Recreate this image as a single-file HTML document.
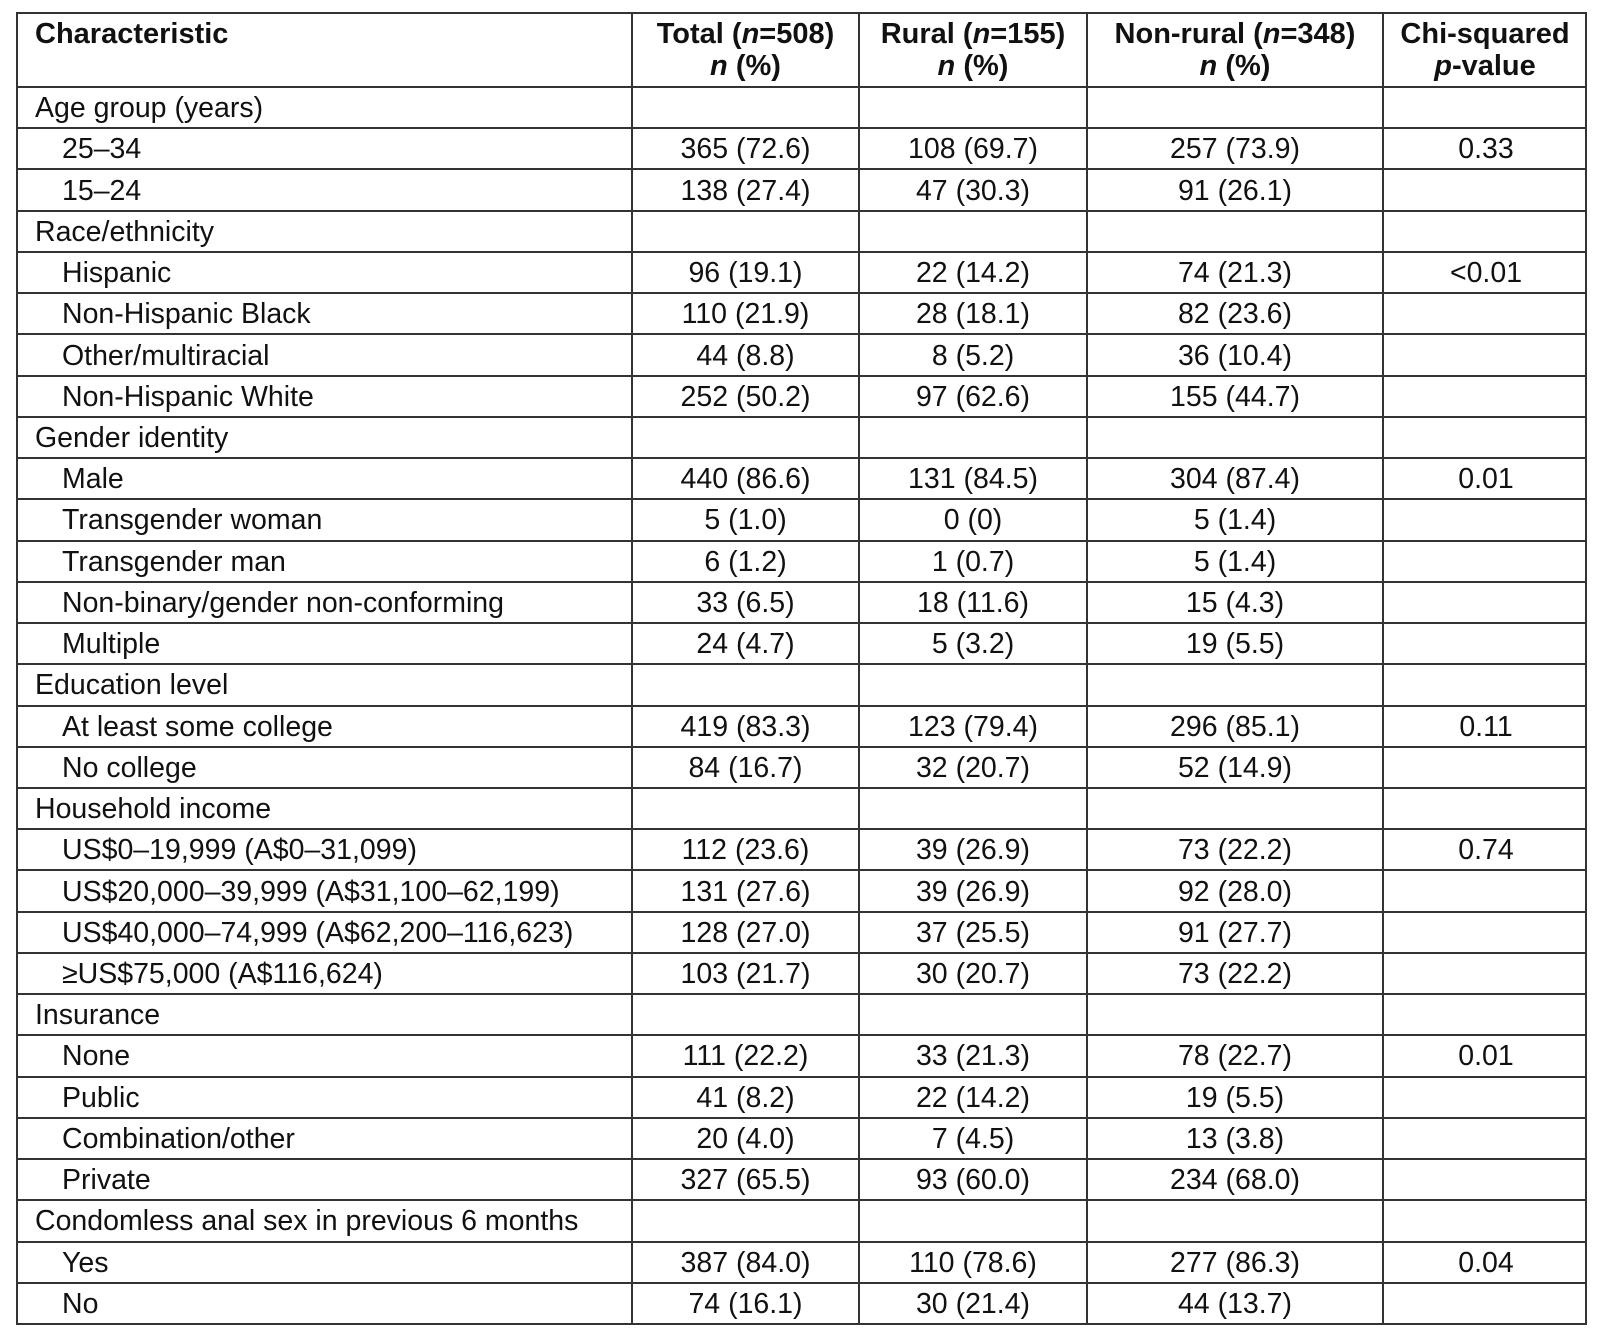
<!DOCTYPE html>
<html><head><meta charset="utf-8">
<style>
html,body{margin:0;padding:0;background:#fff;}
body{width:1600px;height:1339px;position:relative;overflow:hidden;font-family:"Liberation Sans",Arial,sans-serif;color:#111;}
#tbl{position:absolute;left:16px;top:12px;width:1571px;height:1313px;border:2px solid #333;box-sizing:border-box;}
.row{position:absolute;left:0;width:100%;border-top:2px solid #333;box-sizing:border-box;}
.cell{position:absolute;top:0;height:100%;box-sizing:border-box;display:flex;align-items:center;font-size:28.5px;white-space:nowrap;}
.c{justify-content:center;}
.vl{position:absolute;top:0;bottom:0;width:2px;background:#333;}
.hd{font-weight:bold;font-size:29px;line-height:32px;text-align:center;flex-direction:column;justify-content:center;}
</style></head>
<body>
<div id="tbl"></div>
<script>
const colX=[0,614,841,1069,1365,1571];
const header=[["Characteristic",""],["Total (<i>n</i>=508)","<i>n</i> (%)"],["Rural (<i>n</i>=155)","<i>n</i> (%)"],["Non-rural (<i>n</i>=348)","<i>n</i> (%)"],["Chi-squared","<i>p</i>-value"]];
const rows=[
[0,"Age group (years)"],
[1,"25–34","365 (72.6)","108 (69.7)","257 (73.9)","0.33"],
[1,"15–24","138 (27.4)","47 (30.3)","91 (26.1)",""],
[0,"Race/ethnicity"],
[1,"Hispanic","96 (19.1)","22 (14.2)","74 (21.3)","<0.01"],
[1,"Non-Hispanic Black","110 (21.9)","28 (18.1)","82 (23.6)",""],
[1,"Other/multiracial","44 (8.8)","8 (5.2)","36 (10.4)",""],
[1,"Non-Hispanic White","252 (50.2)","97 (62.6)","155 (44.7)",""],
[0,"Gender identity"],
[1,"Male","440 (86.6)","131 (84.5)","304 (87.4)","0.01"],
[1,"Transgender woman","5 (1.0)","0 (0)","5 (1.4)",""],
[1,"Transgender man","6 (1.2)","1 (0.7)","5 (1.4)",""],
[1,"Non-binary/gender non-conforming","33 (6.5)","18 (11.6)","15 (4.3)",""],
[1,"Multiple","24 (4.7)","5 (3.2)","19 (5.5)",""],
[0,"Education level"],
[1,"At least some college","419 (83.3)","123 (79.4)","296 (85.1)","0.11"],
[1,"No college","84 (16.7)","32 (20.7)","52 (14.9)",""],
[0,"Household income"],
[1,"US$0–19,999 (A$0–31,099)","112 (23.6)","39 (26.9)","73 (22.2)","0.74"],
[1,"US$20,000–39,999 (A$31,100–62,199)","131 (27.6)","39 (26.9)","92 (28.0)",""],
[1,"US$40,000–74,999 (A$62,200–116,623)","128 (27.0)","37 (25.5)","91 (27.7)",""],
[1,"≥US$75,000 (A$116,624)","103 (21.7)","30 (20.7)","73 (22.2)",""],
[0,"Insurance"],
[1,"None","111 (22.2)","33 (21.3)","78 (22.7)","0.01"],
[1,"Public","41 (8.2)","22 (14.2)","19 (5.5)",""],
[1,"Combination/other","20 (4.0)","7 (4.5)","13 (3.8)",""],
[1,"Private","327 (65.5)","93 (60.0)","234 (68.0)",""],
[0,"Condomless anal sex in previous 6 months"],
[1,"Yes","387 (84.0)","110 (78.6)","277 (86.3)","0.04"],
[1,"No","74 (16.1)","30 (21.4)","44 (13.7)",""]
];
const tbl=document.getElementById('tbl');
const headH=72, rowH=(1313-2-2-headH)/30;
const h=document.createElement('div');
h.className='row';h.style.top='0';h.style.height=headH+'px';h.style.borderTop='none';


header.forEach((t,i)=>{
  const c=document.createElement('div');
  c.className='cell hd';
  c.style.left=colX[i]+'px';c.style.width=(colX[i+1]-colX[i]-(i==4?2:0))+'px';
  if(i==0){c.style.alignItems='flex-start';c.style.justifyContent='flex-start';c.style.paddingLeft='17px';c.style.paddingTop='4px';}
  c.innerHTML='<div>'+t[0]+'</div><div>'+(t[1]||'&nbsp;')+'</div>';
  
  
  h.appendChild(c);
});
tbl.appendChild(h);
rows.forEach((r,k)=>{
  const rw=document.createElement('div');
  rw.className='row';
  rw.style.top=(headH+k*rowH)+'px';rw.style.height=(rowH+2)+'px';
  
  
  for(let i=0;i<5;i++){
    const c=document.createElement('div');
    c.className='cell'+(i>0?' c':'');
    c.style.left=colX[i]+'px';c.style.width=(colX[i+1]-colX[i])+'px';
    if(i==0)c.style.paddingLeft=(r[0]?44:17)+'px';
    c.textContent=r[i+1]||'';
    
    
    rw.appendChild(c);
  }
  tbl.appendChild(rw);
});
for(let i=1;i<5;i++){
  const v=document.createElement('div');
  v.className='vl';v.style.left=(colX[i]-1)+'px';
  
  
  tbl.appendChild(v);
}
</script>
</body></html>
